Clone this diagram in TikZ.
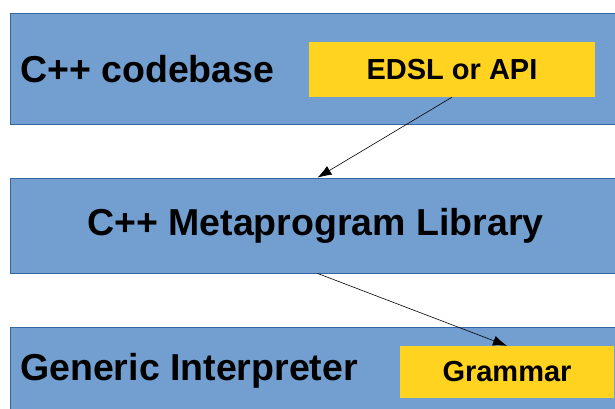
\documentclass[tikz,border=0pt]{standalone}
\usepackage{fontspec}
\setmainfont{Liberation Sans}
\usepackage{xcolor}
\usepackage{tikz}
\usetikzlibrary{arrows.meta}
\definecolor{layerblue}{HTML}{729FCF}
\definecolor{layerline}{HTML}{3465A4}
\definecolor{partyellow}{HTML}{FFD320}
\tikzset{
	layer/.style={rectangle, fill=layerblue, draw=layerline, line width=0.8pt, minimum width=615pt},
	part/.style={rectangle, fill=partyellow, font=\fontsize{29}{32}\selectfont\bfseries},
	bigtext/.style={font=\fontsize{37.5}{40}\selectfont\bfseries},
	dep/.style={-{Latex[length=14pt,width=10pt]}, line width=0.6pt}
}

\begin{document}
\begin{tikzpicture}[x=1pt, y=-1pt]
		\clip (0,0) rectangle (615,408);
		
		\node[layer, minimum height=111pt] (codebase) at (317.5,68.5) {};
		\node[layer, minimum height=95pt] (library) at (317.5,225.5) {};
		\node[layer, minimum height=93pt] (interp) at (317.5,373.5) {};
		
		\node[bigtext, anchor=west, inner sep=0pt] (codebasetext) at (20,69) {C++ codebase};
		\node[bigtext, inner sep=0pt] (librarytext) at (315.5,226) {C++ Metaprogram Library};
		\node[bigtext, anchor=west, inner sep=0pt] (interptext) at (20,371) {Generic Interpreter};
		
		\node[part, minimum width=286pt, minimum height=55pt] (edsl) at (452,69.5) {EDSL or API};
		\node[part, minimum width=214pt, minimum height=52pt] (grammar) at (507,372) {Grammar};
		
		\draw [dep] (edsl.south) -- (library.north);
		\draw [dep] (library.south) -- (grammar.north);
	\end{tikzpicture}
\end{document}
